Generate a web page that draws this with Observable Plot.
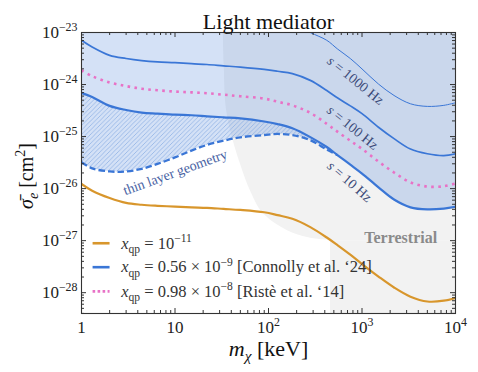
<!DOCTYPE html>
<html><head><meta charset="utf-8">
<script src="https://cdn.jsdelivr.net/npm/d3@7"></script>
<script src="https://cdn.jsdelivr.net/npm/@observablehq/plot@0.6"></script>
<style>
html,body{margin:0;padding:0;background:#fff;}
svg{display:block;}
</style></head><body><div id="chart"></div>
<script>
// ---------- data ----------
const massKeV = [1, 1.3, 2, 3, 4.4, 6.5, 10, 15, 22, 33, 50, 90, 125, 180, 280, 420, 550, 750, 1000, 1500, 2200, 3300, 5000, 7500, 10000];
// log10(sigma_e / cm^2)
const s10Hz   = [-24.16,-24.24,-24.41,-24.49,-24.54,-24.56,-24.58,-24.59,-24.61,-24.63,-24.65,-24.71,-24.76,-24.84,-25.01,-25.20,-25.36,-25.54,-25.71,-25.975,-26.21,-26.36,-26.40,-26.385,-26.35];
const s100Hz  = [-23.15,-23.28,-23.44,-23.50,-23.54,-23.565,-23.58,-23.60,-23.615,-23.64,-23.665,-23.71,-23.745,-23.79,-23.92,-24.115,-24.26,-24.41,-24.56,-24.82,-25.04,-25.24,-25.33,-25.365,-25.33];
const s1000Hz = [-22.15,-22.28,-22.44,-22.50,-22.54,-22.565,-22.58,-22.60,-22.615,-22.64,-22.665,-22.71,-22.75,-22.82,-23.00,-23.15,-23.32,-23.50,-23.70,-23.99,-24.21,-24.37,-24.42,-24.40,-24.35];
const riste14 = [-23.73,-23.84,-23.96,-24.03,-24.08,-24.11,-24.135,-24.15,-24.167,-24.195,-24.225,-24.27,-24.33,-24.40,-24.545,-24.756,-24.91,-25.08,-25.236,-25.48,-25.69,-25.88,-25.96,-25.955,-25.90];
const thinLayer = [-25.49,-25.61,-25.67,-25.67,-25.62,-25.525,-25.40,-25.27,-25.16,-25.08,-25.015,-24.97,-24.95,-24.97,-25.07,-25.25,-25.36]; // first 17 masses
const xqp11   = [-25.91,-26.04,-26.18,-26.275,-26.31,-26.33,-26.346,-26.36,-26.37,-26.39,-26.41,-26.455,-26.51,-26.58,-26.74,-26.94,-27.09,-27.27,-27.45,-27.69,-27.90,-28.077,-28.17,-28.154,-28.10];
// terrestrial region boundary
const terrMass = [32.9, 33.7, 35.4, 42, 50, 64, 88, 160, 261, 460];
const terrLogSigma = [-23.0, -23.69, -24.46, -25.08, -25.52, -26.04, -26.48, -26.81, -26.94, -27.0];
const terrEdgeMass = 460;
// axes
const xDomain = [1, 1e4];
const yDomain = [10 ** -28.4, 1e-23];
const xMajor = [1, 10, 100, 1000, 10000];
const xTickLabels = ["1", "10", "10^{2}", "10^{3}", "10^{4}"];
const yMajor = [1e-28, 1e-27, 1e-26, 1e-25, 1e-24, 1e-23];
const yTickLabels = ["10^{−28}", "10^{−27}", "10^{−26}", "10^{−25}", "10^{−24}", "10^{−23}"];
// texts
const titleText = "Light mediator";
const xLabel = "*m*_{*χ*} [keV]";
const yLabel = "*σ̄*_{*e*} [cm^{2}]";
const legendLabels = ["*x*_{qp} = 10^{−11}", "*x*_{qp} = 0.56 × 10^{−9} [Connolly et al. ‘24]", "*x*_{qp} = 0.98 × 10^{−8} [Ristè et al. ‘14]"];
const curveLabels = ["*s* = 1000 Hz", "*s* = 100 Hz", "*s* = 10 Hz"];

// ---------- layout / style ----------
const W = 478, H = 372, M = {top: 32, right: 23, bottom: 59, left: 81};
const plotW = W - M.left - M.right, plotH = H - M.top - M.bottom;
const majorLen = 5, minorLen = 3;
const axisColor = "#333";
const blue = "#3a76d6", pink = "#e872c6", orange = "#d8962c", grey = "#f2f2f2";
const font = "Liberation Serif";
const curveLabelPos = {mass: [853, 793, 736], logSigma: [-23.923, -24.827, -25.865], rotate: [39, 39, 41]};
const thinPos = {mass: 10.05, logSigma: -25.687};
const terrPos = {mass: 2594, logSigma: -26.952};
const legendPos = {logSigma: [-27.05, -27.51, -27.975], lineFrom: 1.33, lineTo: 2.02, textAt: 2.66};
const legendStyles = [
  {stroke: orange, dash: null},
  {stroke: blue, dash: null},
  {stroke: pink, dash: "2.6,2.4"}
];

const xMinor = [];
for (const d of [1, 10, 100, 1000]) for (let k = 2; k <= 9; k++) xMinor.push(k * d);
const yMinor = [];
for (let e = -29; e <= -24; e++) for (let k = 2; k <= 9; k++) { const v = k * 10 ** e; if (v >= yDomain[0] && v <= yDomain[1]) yMinor.push(v); }

const pow = (arr) => (d, i) => 10 ** arr[i];
const lowerEdge = massKeV.map((m, i) => i < thinLayer.length ? thinLayer[i] : s10Hz[i]);
const thinMass = massKeV.slice(0, thinLayer.length);

const legendLineMarks = legendLabels.map((lab, i) =>
  Plot.ruleY([lab], {y: () => 10 ** legendPos.logSigma[i], x1: () => legendPos.lineFrom, x2: () => legendPos.lineTo,
    stroke: legendStyles[i].stroke, strokeWidth: 2.6, strokeDasharray: legendStyles[i].dash || undefined}));

const chart = Plot.plot({
  width: W, height: H,
  marginTop: M.top, marginRight: M.right, marginBottom: M.bottom, marginLeft: M.left,
  x: {type: "log", domain: xDomain, axis: null},
  y: {type: "log", domain: yDomain, axis: null},
  style: {fontFamily: font, fontSize: "17px", color: "#222", background: "#fff"},
  marks: [
    // terrestrial
    Plot.areaX(terrMass, {y: pow(terrLogSigma), x1: d => d, x2: () => xDomain[1], fill: grey, curve: "catmull-rom", clip: true}),
    Plot.rect([0], {x1: () => terrEdgeMass, x2: () => xDomain[1], y1: () => yDomain[0], y2: () => 10 ** terrLogSigma[terrLogSigma.length - 1], fill: grey}),
    // excluded region
    Plot.areaY(massKeV, {x: d => d, y1: pow(lowerEdge), y2: () => yDomain[1], fill: blue, fillOpacity: 0.22, curve: "catmull-rom", clip: true}),
    Plot.areaY(thinMass, {x: d => d, y1: pow(thinLayer), y2: pow(s10Hz), fill: "#000", ariaDescription: "hatch", curve: "catmull-rom", clip: true}),
    // lines
    Plot.line(massKeV, {x: d => d, y: pow(s1000Hz), stroke: blue, strokeWidth: 1, curve: "catmull-rom", clip: true}),
    Plot.line(massKeV, {x: d => d, y: pow(s100Hz), stroke: blue, strokeWidth: 1.7, curve: "catmull-rom", clip: true}),
    Plot.line(massKeV, {x: d => d, y: pow(riste14), stroke: pink, strokeWidth: 2.6, strokeDasharray: "2.6,4.4", strokeLinecap: "butt", curve: "catmull-rom", clip: true}),
    Plot.line(thinMass, {x: d => d, y: pow(thinLayer), stroke: blue, strokeWidth: 2.3, strokeDasharray: "6.5,3", strokeLinecap: "butt", curve: "catmull-rom", clip: true}),
    Plot.line(massKeV, {x: d => d, y: pow(s10Hz), stroke: blue, strokeWidth: 2.2, curve: "catmull-rom", clip: true}),
    Plot.line(massKeV, {x: d => d, y: pow(xqp11), stroke: orange, strokeWidth: 2.2, curve: "catmull-rom", clip: true}),
    // annotations
    Plot.text(curveLabels, {x: (d, i) => curveLabelPos.mass[i], y: (d, i) => 10 ** curveLabelPos.logSigma[i], rotate: (d, i) => curveLabelPos.rotate[i], text: d => d, fill: "#3b4a78", fontSize: 14}),
    Plot.text(["thin layer geometry"], {x: () => thinPos.mass, y: () => 10 ** thinPos.logSigma, rotate: -20, fill: "#4862a3", fontSize: 14}),
    Plot.text(["Terrestrial"], {x: () => terrPos.mass, y: () => 10 ** terrPos.logSigma, fill: "#8a8a8a", fontSize: 16, fontWeight: "bold"}),
    // legend
    ...legendLineMarks,
    Plot.text(legendLabels, {x: () => legendPos.textAt, y: (d, i) => 10 ** legendPos.logSigma[i], text: d => d, textAnchor: "start", fontSize: 16.5, fill: "#333"}),
    // ticks (inward, all sides)
    Plot.ruleX(xMajor, {x: d => d, insetTop: plotH - majorLen, stroke: axisColor}),
    Plot.ruleX(xMajor, {x: d => d, insetBottom: plotH - majorLen, stroke: axisColor}),
    Plot.ruleX(xMinor, {x: d => d, insetTop: plotH - minorLen, stroke: axisColor}),
    Plot.ruleX(xMinor, {x: d => d, insetBottom: plotH - minorLen, stroke: axisColor}),
    Plot.ruleY(yMajor, {y: d => d, insetRight: plotW - majorLen, stroke: axisColor}),
    Plot.ruleY(yMajor, {y: d => d, insetLeft: plotW - majorLen, stroke: axisColor}),
    Plot.ruleY(yMinor, {y: d => d, insetRight: plotW - minorLen, stroke: axisColor}),
    Plot.ruleY(yMinor, {y: d => d, insetLeft: plotW - minorLen, stroke: axisColor}),
    Plot.frame({stroke: axisColor, strokeWidth: 1.1}),
    // tick labels
    Plot.text(xMajor, {x: d => d, frameAnchor: "bottom", lineAnchor: "middle", dy: 14, text: (d, i) => xTickLabels[i], fontSize: 17, fill: "#222"}),
    Plot.text(yMajor, {y: d => d, frameAnchor: "left", lineAnchor: "middle", dx: -4, textAnchor: "end", text: (d, i) => yTickLabels[i], fontSize: 17, fill: "#222"}),
    // titles
    Plot.text([titleText], {frameAnchor: "top", lineAnchor: "middle", textAnchor: "middle", dy: -11, fontSize: 22, fill: "#111"}),
    Plot.text([xLabel], {frameAnchor: "bottom", lineAnchor: "middle", textAnchor: "middle", dy: 35, fontSize: 22, fill: "#111"}),
    Plot.text([yLabel], {frameAnchor: "left", lineAnchor: "middle", textAnchor: "middle", dx: -55, dy: 3, rotate: -90, fontSize: 20, fill: "#111"})
  ]
});

// hatch pattern
const svg = d3.select(chart);
const defs = svg.insert("defs", ":first-child");
const pat = defs.append("pattern").attr("id", "hatch").attr("patternUnits", "userSpaceOnUse").attr("width", 4.5).attr("height", 4.5);
pat.append("path").attr("d", "M-1,1 l2,-2 M0,4.5 l4.5,-4.5 M3.5,5.5 l2,-2").attr("stroke", "#86abe3").attr("stroke-width", 0.7).attr("fill", "none");
svg.selectAll('g[aria-description="hatch"]').attr("fill", "url(#hatch)");
svg.selectAll('g[aria-description="hatch"] path').attr("fill", "url(#hatch)");

// rich text: *italic*, ^{sup}, _{sub}
function parse(s) {
  const segs = []; let it = false, mode = null, buf = "";
  const flush = () => { if (buf) segs.push({text: buf, it, mode}); buf = ""; };
  for (let i = 0; i < s.length; i++) {
    const c = s[i];
    if ((c === "^" || c === "_") && s[i + 1] === "{") { flush(); mode = c === "^" ? "sup" : "sub"; i++; }
    else if (c === "}" && mode) { flush(); mode = null; }
    else if (c === "*") { flush(); it = !it; }
    else buf += c;
  }
  flush();
  return segs;
}
document.getElementById("chart").appendChild(chart);
svg.selectAll("text").each(function() {
  const el = this;
  if (el.querySelector("tspan")) return;
  const s = el.textContent;
  if (!/[\^_*]/.test(s)) return;
  const fs = parseFloat(getComputedStyle(el).fontSize) || 17;
  const segs = parse(s);
  while (el.firstChild) el.removeChild(el.firstChild);
  let shift = 0;
  for (const seg of segs) {
    const t = document.createElementNS("http://www.w3.org/2000/svg", "tspan");
    const target = seg.mode === "sup" ? -0.42 * fs : seg.mode === "sub" ? 0.25 * fs : 0;
    if (target !== shift) t.setAttribute("dy", (target - shift).toFixed(2));
    shift = target;
    if (seg.mode) t.setAttribute("font-size", (0.7 * fs).toFixed(2));
    if (seg.it) t.setAttribute("font-style", "italic");
    t.textContent = seg.text;
    el.appendChild(t);
  }
});
</script>
</body></html>
